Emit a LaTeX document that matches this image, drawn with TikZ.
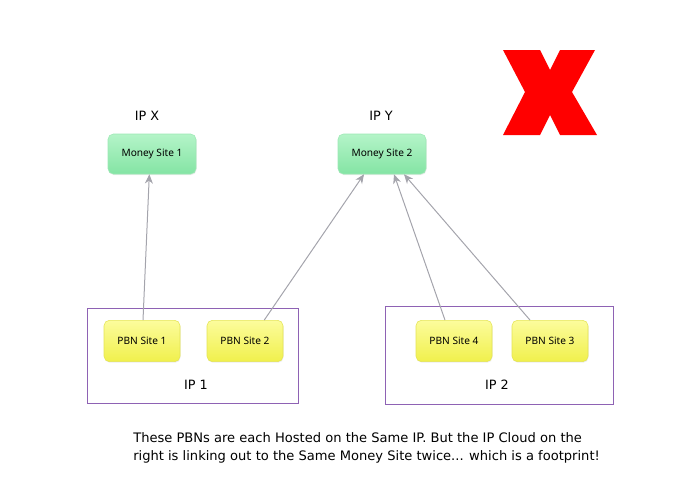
\documentclass[tikz,border=0pt]{standalone}
\usepackage{fontspec}
\setmainfont{DejaVu Sans}
\newfontfamily\boxfont{Noto Sans}
\usepackage{xcolor}
\usepackage{tikz}
\usetikzlibrary{arrows.meta,shadows}

\definecolor{ipline}{HTML}{8E62B4}
\definecolor{linkgrey}{HTML}{A4A4AC}
\definecolor{moneytop}{HTML}{B4F4C8}
\definecolor{moneybot}{HTML}{84E4A4}
\definecolor{moneyedge}{HTML}{9CE8B4}
\definecolor{pbntop}{HTML}{FCFC9C}
\definecolor{pbnbot}{HTML}{F0F04C}
\definecolor{pbnedge}{HTML}{E4E454}
\definecolor{crossred}{HTML}{FF0000}

\tikzset{
  money/.style={rounded corners=4pt, draw=moneyedge, top color=moneytop, bottom color=moneybot,
    minimum width=66pt, minimum height=30pt, inner sep=0pt, font=\boxfont\fontsize{7.6}{9}\selectfont,
    drop shadow={shadow xshift=0.4pt, shadow yshift=-0.8pt, opacity=0.15}},
  pbn/.style={rounded corners=4pt, draw=pbnedge, top color=pbntop, bottom color=pbnbot,
    minimum width=57pt, minimum height=31pt, inner sep=0pt, font=\boxfont\fontsize{7.6}{9}\selectfont,
    drop shadow={shadow xshift=0.4pt, shadow yshift=-0.8pt, opacity=0.15}},
  ipbox/.style={draw=ipline, line width=0.6pt},
  iplabel/.style={font=\fontsize{9.6}{11}\selectfont},
  link/.style={draw=linkgrey, line width=0.75pt, -{Stealth[length=7pt, width=6pt]}}
}

\begin{document}
\begin{tikzpicture}[x=0.75pt, y=-0.75pt]
\useasboundingbox (0,0) rectangle (700,500);
% ip groups
\draw[ipbox] (87,308) rectangle (298,403);
\draw[ipbox] (385,306) rectangle (613,404);
\node[iplabel] (ip1) at (196,385) {IP 1};
\node[iplabel] (ip2) at (497,385) {IP 2};
\node[iplabel] (ipx) at (147,116) {IP X};
\node[iplabel] (ipy) at (381,116) {IP Y};
% money sites
\node[money] (ms1) at (152,154) {Money Site 1};
\node[money] (ms2) at (382,154) {Money Site 2};
% pbn sites
\node[pbn] (pbn1) at (142,341) {PBN Site 1};
\node[pbn] (pbn2) at (245,341) {PBN Site 2};
\node[pbn] (pbn4) at (454,341) {PBN Site 4};
\node[pbn] (pbn3) at (550,341) {PBN Site 3};
% links
\draw[link] (pbn1.north) ++(1,0) -- ([xshift=-2pt]ms1.south);
\draw[link] (pbn2.north east) ++(-19,0) -- ([xshift=-13.5pt]ms2.south);
\draw[link] (pbn4.north) ++(-9,0) -- ([xshift=9pt]ms2.south);
\draw[link] (pbn3.north) ++(-20,0) -- ([xshift=16.5pt]ms2.south);
% big red cross
\fill[crossred] (503,50) -- (540,50) -- (550,70) -- (560,50) -- (595,50) -- (572,92)
  -- (597,135) -- (560,135) -- (550,115) -- (540,135) -- (503,135) -- (525,92) -- cycle;
% caption
\node[anchor=north west, align=left, inner sep=0pt, font=\fontsize{9.8}{13.5}\selectfont] (note) at (133,432)
  {These PBNs are each Hosted on the Same IP. But the IP Cloud on the\\
   right is linking out to the Same Money Site twice... which is a footprint!};
\end{tikzpicture}
\end{document}
